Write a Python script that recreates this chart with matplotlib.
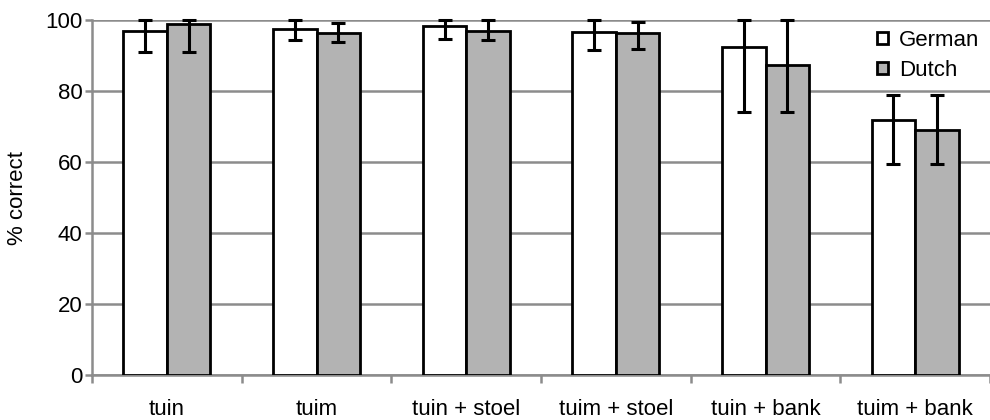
import numpy as np
import matplotlib.pyplot as plt

plt.rcParams["font.family"] = ["Liberation Sans", "DejaVu Sans"]

categories = ["tuin", "tuim", "tuin + stoel", "tuim + stoel", "tuin + bank", "tuim + bank"]
german = [97.0, 97.5, 98.3, 96.8, 92.5, 72.0]
dutch = [99.0, 96.3, 97.0, 96.4, 87.5, 69.0]
# error bar ends (absolute)
german_lo = [91.1, 94.4, 94.6, 91.7, 74.2, 59.6]
german_hi = [100.0, 100.0, 100.0, 100.0, 100.0, 78.9]
dutch_lo = [91.1, 93.8, 94.4, 91.9, 74.2, 59.4]
dutch_hi = [100.0, 99.2, 100.0, 99.6, 100.0, 78.9]

GRID = "#8c8c8c"
DUTCH_FILL = "#b3b3b3"
FS = 16

fig = plt.figure(figsize=(9.9, 4.2), dpi=100)
ax = fig.add_axes([0.093, 0.107, 0.907, 0.845])

x = np.arange(len(categories))
w = 0.29
for vals, lo, hi, fill, lab, off in [(german, german_lo, german_hi, "white", "German", -w / 2),
                                      (dutch, dutch_lo, dutch_hi, DUTCH_FILL, "Dutch", w / 2)]:
    vals = np.array(vals)
    ax.bar(x + off, vals, width=w, color=fill, edgecolor="black", linewidth=2.0,
           label=lab, zorder=3)
    yerr = [vals - np.array(lo), np.array(hi) - vals]
    eb = ax.errorbar(x + off, vals, yerr=yerr, fmt="none", ecolor="black",
                     elinewidth=2.2, capsize=5, capthick=2.2, zorder=4)
    for child in eb.get_children():
        child.set_clip_on(False)

ax.set_xlim(-0.5, len(categories) - 0.5)
ax.set_ylim(0, 100)
ax.set_yticks(np.arange(0, 101, 20))
ax.yaxis.grid(True, color=GRID, linewidth=1.8)
ax.set_axisbelow(True)

ax.set_xticks(x)
ax.set_xticklabels(categories, fontsize=FS)
ax.tick_params(axis="x", which="major", length=0, pad=17)
ax.set_xticks(np.arange(-0.5, len(categories), 1), minor=True)
ax.tick_params(axis="x", which="minor", length=6, width=1.8, color=GRID)
ax.tick_params(axis="y", length=5, width=1.8, color=GRID, labelsize=FS, pad=2)

for s in ["top", "right"]:
    ax.spines[s].set_visible(False)
for s in ["left", "bottom"]:
    ax.spines[s].set_color(GRID)
    ax.spines[s].set_linewidth(1.8)

ax.set_ylabel("% correct", fontsize=FS, labelpad=12)

ax.legend(loc="upper right", bbox_to_anchor=(1.003, 1.01), frameon=False, fontsize=FS,
          handlelength=0.5, handleheight=0.5, handletextpad=0.5, labelspacing=0.4,
          borderaxespad=0.2)

fig.savefig("out.png", dpi=100)
